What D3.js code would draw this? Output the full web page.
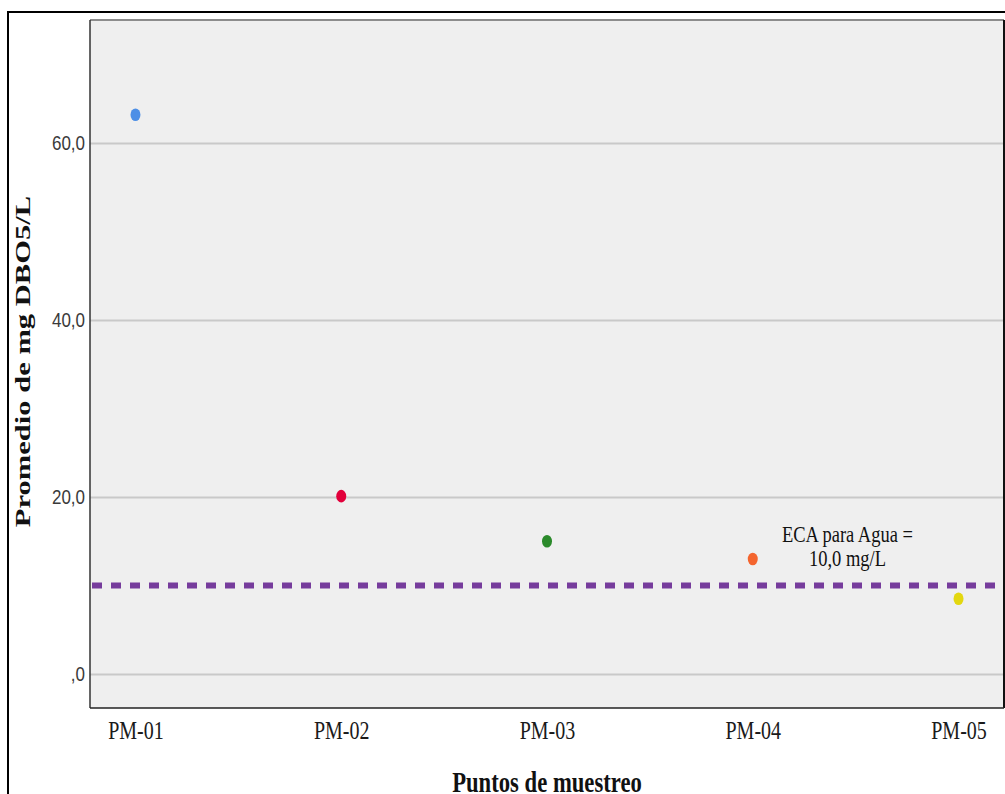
<!DOCTYPE html>
<html>
<head>
<meta charset="utf-8">
<script src="https://cdn.jsdelivr.net/npm/d3@7"></script>
<style>
  html, body { margin: 0; padding: 0; background: #ffffff; }
  svg { display: block; }
</style>
</head>
<body>
<svg id="chart" width="1005" height="794"></svg>
<script>
// ---- data ----
const categories = ["PM-01", "PM-02", "PM-03", "PM-04", "PM-05"];
const values = [63.2, 20.1, 15.0, 13.0, 8.5];
const pointColors = ["#4d8fe6", "#e2003b", "#2b8a2b", "#f4652e", "#e3d70f"];
const yTicks = [0, 20, 40, 60];
const yTickLabels = [",0", "20,0", "40,0", "60,0"];
const ecaLimit = 10.0;
const annotationLines = ["ECA para Agua =", "10,0 mg/L"];
const xTitle = "Puntos de muestreo";
const yTitle = "Promedio de mg DBO5/L";

// ---- layout ----
const svg = d3.select("#chart");
const plot = { left: 90, right: 1004, top: 20, bottom: 708 };
const vStretch = 1.3;

// outer frame
svg.append("rect")
  .attr("x", 8).attr("y", 12)
  .attr("width", 1020).attr("height", 820)
  .attr("fill", "#ffffff")
  .attr("stroke", "#000000").attr("stroke-width", 2);

const x = d3.scalePoint().domain(categories)
  .range([plot.left, plot.right]).padding(0.221);
const y = d3.scaleLinear().domain([-3.84, 73.9])
  .range([plot.bottom, plot.top]);

// plot background
svg.append("rect")
  .attr("x", plot.left).attr("y", plot.top)
  .attr("width", plot.right - plot.left)
  .attr("height", plot.bottom - plot.top)
  .attr("fill", "#efefef");

// gridlines
const grid = svg.append("g")
  .attr("transform", `translate(${plot.left},0)`)
  .call(d3.axisLeft(y).tickValues(yTicks).tickSize(-(plot.right - plot.left)).tickFormat(""));
grid.select(".domain").remove();
grid.selectAll(".tick line").attr("stroke", "#c9c9c9").attr("stroke-width", 2);

// plot border
svg.append("line")
  .attr("x1", plot.left).attr("x2", plot.right)
  .attr("y1", plot.top).attr("y2", plot.top)
  .attr("stroke", "#8c8c8c").attr("stroke-width", 2);
svg.append("line")
  .attr("x1", plot.left).attr("x2", plot.left)
  .attr("y1", plot.top).attr("y2", plot.bottom)
  .attr("stroke", "#333333").attr("stroke-width", 1.5);
svg.append("line")
  .attr("x1", plot.right).attr("x2", plot.right)
  .attr("y1", plot.top).attr("y2", plot.bottom)
  .attr("stroke", "#111111").attr("stroke-width", 2);
svg.append("line")
  .attr("x1", plot.left).attr("x2", plot.right)
  .attr("y1", plot.bottom).attr("y2", plot.bottom)
  .attr("stroke", "#222222").attr("stroke-width", 1.6);

// y axis labels
const yAxis = svg.append("g")
  .attr("transform", `translate(${plot.left},0)`)
  .call(d3.axisLeft(y).tickValues(yTicks).tickSize(0).tickPadding(5)
    .tickFormat((d, i) => yTickLabels[i]));
yAxis.select(".domain").remove();
yAxis.selectAll("text")
  .attr("font-family", "'Liberation Sans', Arial, sans-serif")
  .attr("font-size", 17)
  .attr("fill", "#3a3a3a")
  .attr("transform", `scale(1,1.22)`);

// x axis labels
const xAxis = svg.append("g")
  .attr("transform", `translate(0,${plot.bottom})`)
  .call(d3.axisBottom(x).tickSize(0).tickPadding(0));
xAxis.select(".domain").remove();
xAxis.selectAll("text")
  .attr("y", 0).attr("dy", null)
  .attr("font-family", "'Liberation Serif', 'Times New Roman', serif")
  .attr("font-size", 20)
  .attr("fill", "#1a1a1a")
  .attr("transform", `translate(0,31) scale(1,${vStretch})`);

// reference dashed line
svg.append("line")
  .attr("x1", plot.left + 2).attr("x2", plot.right)
  .attr("y1", y(ecaLimit)).attr("y2", y(ecaLimit))
  .attr("stroke", "#763c9c").attr("stroke-width", 6)
  .attr("stroke-dasharray", "10,9");

// annotation
const annX = x(categories[3]) + x.step() * 0.46;
const ann = svg.append("g");
annotationLines.forEach((t, i) => {
  ann.append("text")
    .attr("transform", `translate(${annX},${y(ecaLimit) - 44 + i * 24}) scale(1,${vStretch})`)
    .attr("text-anchor", "middle")
    .attr("font-family", "'Liberation Serif', 'Times New Roman', serif")
    .attr("font-size", 18.5)
    .attr("fill", "#111111")
    .text(t);
});

// points
svg.append("g").selectAll("ellipse")
  .data(values)
  .join("ellipse")
  .attr("cx", (d, i) => x(categories[i]))
  .attr("cy", d => y(d))
  .attr("rx", 5).attr("ry", 6.3)
  .attr("fill", (d, i) => pointColors[i]);

// axis titles
svg.append("text")
  .attr("transform", `translate(${(plot.left + plot.right) / 2},792) scale(1.03,${vStretch})`)
  .attr("text-anchor", "middle")
  .attr("font-family", "'Liberation Serif', 'Times New Roman', serif")
  .attr("font-weight", "bold")
  .attr("font-size", 22)
  .attr("fill", "#111111")
  .text(xTitle);

svg.append("text")
  .attr("transform", `translate(29.5,361.5) scale(1,1.39) rotate(-90)`)
  .attr("text-anchor", "middle")
  .attr("font-family", "'Liberation Serif', 'Times New Roman', serif")
  .attr("font-weight", "bold")
  .attr("font-size", 22)
  .attr("fill", "#111111")
  .text(yTitle);
</script>
</body>
</html>
